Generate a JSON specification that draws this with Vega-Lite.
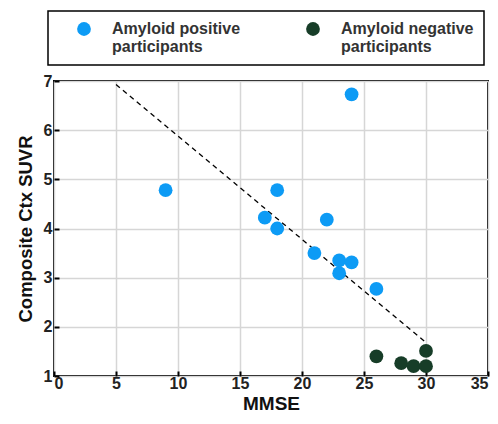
{
  "$schema": "https://vega.github.io/schema/vega-lite/v6.json",
  "autosize": "none",
  "width": 434,
  "height": 295,
  "padding": {"left": 54, "top": 81, "right": 10, "bottom": 48},
  "background": "white",
  "config": {
    "font": "Liberation Sans",
    "view": {"stroke": "black", "strokeWidth": 2},
    "axis": {
      "labelFont": "Liberation Sans", "labelFontWeight": "bold", "labelFontSize": 16, "labelColor": "#222",
      "titleFont": "Liberation Sans", "titleFontWeight": "bold", "titleColor": "#111",
      "gridColor": "#d6d6d6", "gridWidth": 1.5, "gridOpacity": 1,
      "domain": false, "tickColor": "black", "tickWidth": 2, "tickSize": -5
    }
  },
  "datasets": {
    "pts": [
      {"mmse": 24, "suvr": 6.73, "group": "Amyloid positive participants"},
      {"mmse": 9, "suvr": 4.78, "group": "Amyloid positive participants"},
      {"mmse": 18, "suvr": 4.78, "group": "Amyloid positive participants"},
      {"mmse": 17, "suvr": 4.22, "group": "Amyloid positive participants"},
      {"mmse": 18, "suvr": 4.0, "group": "Amyloid positive participants"},
      {"mmse": 22, "suvr": 4.18, "group": "Amyloid positive participants"},
      {"mmse": 21, "suvr": 3.5, "group": "Amyloid positive participants"},
      {"mmse": 23, "suvr": 3.35, "group": "Amyloid positive participants"},
      {"mmse": 24, "suvr": 3.31, "group": "Amyloid positive participants"},
      {"mmse": 23, "suvr": 3.09, "group": "Amyloid positive participants"},
      {"mmse": 26, "suvr": 2.77, "group": "Amyloid positive participants"},
      {"mmse": 26, "suvr": 1.4, "group": "Amyloid negative participants"},
      {"mmse": 28, "suvr": 1.26, "group": "Amyloid negative participants"},
      {"mmse": 29, "suvr": 1.2, "group": "Amyloid negative participants"},
      {"mmse": 30, "suvr": 1.2, "group": "Amyloid negative participants"},
      {"mmse": 30, "suvr": 1.51, "group": "Amyloid negative participants"}
    ],
    "fit": [
      {"mmse": 5, "suvr": 6.93},
      {"mmse": 30, "suvr": 1.68}
    ]
  },
  "layer": [
    {
      "data": {"name": "fit"},
      "mark": {"type": "line", "color": "black", "strokeDash": [5, 4], "strokeWidth": 1.3},
      "encoding": {
        "x": {"field": "mmse", "type": "quantitative"},
        "y": {"field": "suvr", "type": "quantitative"}
      }
    },
    {
      "data": {"name": "pts"},
      "mark": {"type": "point", "filled": true, "opacity": 1, "size": 190},
      "encoding": {
        "x": {"field": "mmse", "type": "quantitative", "scale": {"domain": [0, 35], "nice": false}, "axis": {"values": [0,5,10,15,20,25,30,35], "title": "MMSE", "titleFontSize": 19, "labelPadding": 4, "titlePadding": 3}},
        "y": {"field": "suvr", "type": "quantitative", "scale": {"domain": [1, 7], "nice": false, "zero": false}, "axis": {"values": [1,2,3,4,5,6,7], "title": "Composite Ctx SUVR", "titleFontSize": 18.5, "labelPadding": 7, "titlePadding": 8}},
        "color": {
          "field": "group", "type": "nominal",
          "scale": {"domain": ["Amyloid positive participants", "Amyloid negative participants"], "range": ["#0d9bf5", "#173d28"]},
          "legend": {
            "title": null, "orient": "none", "legendX": -6, "legendY": -70,
            "direction": "horizontal", "columns": 2, "columnPadding": 46,
            "strokeColor": "black", "padding": 10, "symbolOffset": 18,
            "symbolSize": 190, "symbolType": "circle", "symbolOpacity": 1, "symbolStrokeWidth": 0,
            "labelFont": "Liberation Sans", "labelFontWeight": "bold", "labelFontSize": 16, "labelColor": "#333", "labelLimit": 300, "labelOffset": 20,
            "labelExpr": "datum.label == 'Amyloid positive participants' ? ['Amyloid positive', ' participants'] : ['Amyloid negative', 'participants']",
            "encode": {
              "legend": {"update": {"strokeWidth": {"value": 1.5}}},
              "labels": {"update": {"lineHeight": {"value": 18}}}
            }
          }
        }
      }
    }
  ]
}
